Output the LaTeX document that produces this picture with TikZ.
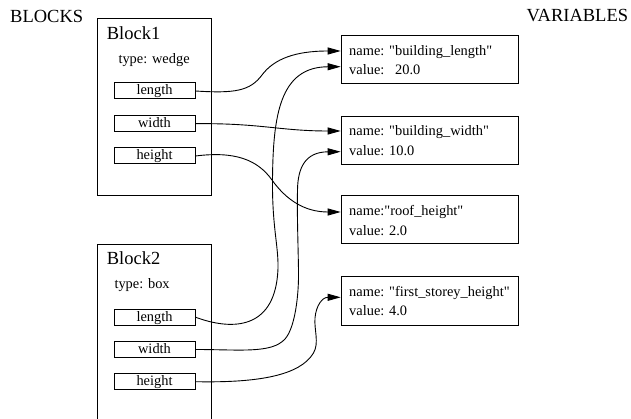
\documentclass[tikz,border=0pt]{standalone}
\usepackage{fontspec}
\setmainfont{Liberation Serif}[Ligatures=TeXOff]
\usetikzlibrary{arrows.meta}
\tikzset{
  big/.style={font=\fontsize{18.5}{22}\selectfont, inner sep=0pt},
  small/.style={font=\fontsize{14.4}{17}\selectfont, inner sep=0pt},
  blockbox/.style={draw=black, line width=1pt},
  field/.style={draw=black, line width=1pt, minimum width=81pt, minimum height=16pt,
    inner sep=0pt, text height=10.5pt, text depth=2.5pt, font=\fontsize{14.4}{17}\selectfont},
  vbox/.style={draw=black, line width=1pt, minimum width=177.6pt, minimum height=48pt,
    inner sep=0pt, anchor=north west},
  link/.style={draw=black, line width=0.9pt, -{Triangle[length=13pt,width=7pt]}}
}
\begin{document}
\begin{tikzpicture}[x=1pt,y=-1pt]
\clip (0,0) rectangle (631,419);
\fill[white] (0,0) rectangle (631,419);
% titles
\node[big, anchor=base west] (tb) at (10,22.3) {BLOCKS};
\node[big, anchor=base east] (tv) at (628.3,21.8) {VARIABLES};
% Block1
\draw[blockbox] (97.7,18.3) rectangle (211,196);
\node[big, anchor=base west] (b1t) at (106.7,39.3) {Block1};
\node[small, anchor=base west] (b1ty) at (118.3,64) {type: wedge};
\node[field] (b1l) at (154.5,91) {length};
\node[field] (b1w) at (154.5,123.7) {width};
\node[field] (b1h) at (154.5,156) {height};
% Block2
\draw[blockbox] (97.7,430) -- (97.7,244.3) -- (211,244.3) -- (211,430);
\node[big, anchor=base west] (b2t) at (106.7,265) {Block2};
\node[small, anchor=base west] (b2ty) at (114.3,289) {type: box};
\node[field] (b2l) at (154.5,317.2) {length};
\node[field] (b2w) at (154.5,349.5) {width};
\node[field] (b2h) at (154.5,381.7) {height};
% Variables
\node[vbox] (v1) at (340.7,34.7) {};
\node[small, anchor=base west] (v1n) at (349,56) {name: "building\_length"};
\node[small, anchor=base west] (v1v) at (349,74.7) {value:\ \ \ 20.0};
\node[vbox] (v2) at (340.7,116) {};
\node[small, anchor=base west] (v2n) at (349,136) {name: "building\_width"};
\node[small, anchor=base west] (v2v) at (349,156) {value: 10.0};
\node[vbox] (v3) at (340.7,195.5) {};
\node[small, anchor=base west] (v3n) at (349,216) {name:"roof\_height"};
\node[small, anchor=base west] (v3v) at (349,235.5) {value: 2.0};
\node[vbox] (v4) at (340.7,276.5) {};
\node[small, anchor=base west] (v4n) at (349,296.7) {name: "first\_storey\_height"};
\node[small, anchor=base west] (v4v) at (349,316) {value: 4.0};
% arrow targets on the box edges
\coordinate (t1) at (340.7,51);
\coordinate (t2) at (340.7,66.7);
\coordinate (t3) at (340.7,131);
\coordinate (t4) at (340.7,151.7);
\coordinate (t5) at (340.7,212);
\coordinate (t6) at (340.7,297.3);
% connectors
\draw[link] (b1l.east) .. controls (235,93.5) and (250,91) .. (262,75)
  .. controls (274,59) and (295,51) .. (t1);
\draw[link] (b1w.east) .. controls (260,123) and (280,131) .. (t3);
\draw[link] (b1h.east) .. controls (235,151) and (257.5,159.7) .. (272,180)
  .. controls (286.5,200.3) and (305,212) .. (t5);
\draw[link] (b2l.east) .. controls (230,330) and (270,330) .. (277,280)
  .. controls (281,252) and (272,235) .. (272.5,180)
  .. controls (273,115) and (280,67) .. (t2);
\draw[link] (b2w.east) .. controls (240,349.5) and (271.6,353.8) .. (285,339)
  .. controls (295,327.9) and (299,295) .. (298.5,270)
  .. controls (298,240) and (297,215) .. (297.5,190)
  .. controls (297.8,168) and (305,152) .. (t4);
\draw[link] (b2h.east) .. controls (260,383) and (300,375) .. (313.3,353.3)
  .. controls (319.5,343) and (314,330) .. (315,318)
  .. controls (316,306) and (322,297.3) .. (t6);
\end{tikzpicture}
\end{document}
